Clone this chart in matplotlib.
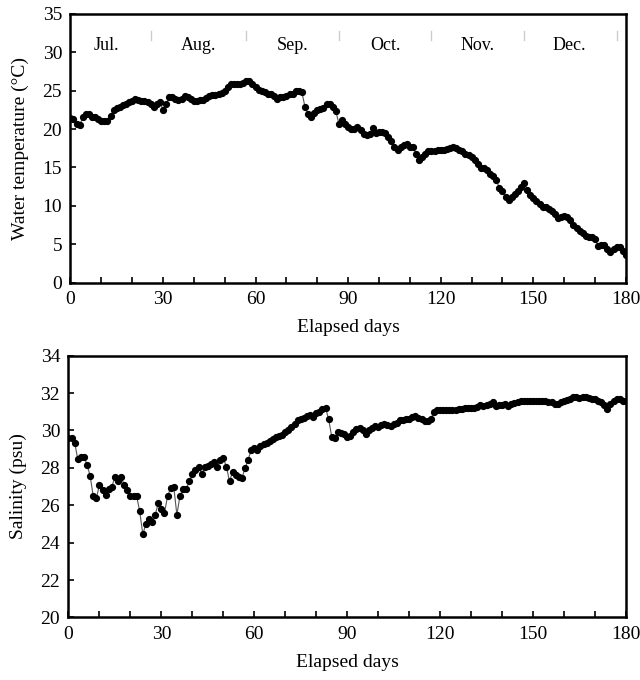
import numpy as np
import matplotlib
matplotlib.use('Agg')
import matplotlib.pyplot as plt

plt.rcParams['font.family'] = ['Liberation Serif', 'DejaVu Serif']

# Daily readings, day 0 .. 180
days = np.arange(181)

temperature = [
    21.4, 21.3, 20.7, 20.5, 21.5, 22.0, 21.9, 21.6, 21.5, 21.3,
    21.1, 21.0, 21.0, 21.7, 22.5, 22.7, 22.9, 23.1, 23.2, 23.5,
    23.7, 23.9, 23.8, 23.7, 23.6, 23.5, 23.2, 22.8, 23.3, 23.5,
    22.5, 23.2, 24.1, 24.2, 23.9, 23.8, 23.9, 24.3, 24.2, 23.9,
    23.6, 23.6, 23.8, 23.8, 24.0, 24.3, 24.4, 24.4, 24.6, 24.7,
    25.0, 25.5, 25.9, 25.9, 25.8, 25.8, 26.0, 26.2, 26.3, 25.9,
    25.4, 25.1, 24.9, 24.8, 24.6, 24.5, 24.3, 23.9, 24.2, 24.2,
    24.3, 24.5, 24.6, 24.9, 25.0, 24.8, 22.9, 21.9, 21.5, 22.1,
    22.5, 22.6, 22.7, 23.2, 23.2, 22.9, 22.3, 20.7, 21.2, 20.7,
    20.3, 20.0, 20.0, 20.3, 19.9, 19.4, 19.2, 19.3, 20.1, 19.5,
    19.6, 19.6, 19.5, 19.0, 18.4, 17.7, 17.3, 17.7, 17.9, 18.1,
    17.7, 17.7, 16.8, 16.0, 16.4, 16.8, 17.1, 17.1, 17.1, 17.3,
    17.3, 17.3, 17.4, 17.5, 17.6, 17.5, 17.3, 17.1, 16.8, 16.6,
    16.4, 16.0, 15.5, 14.9, 14.9, 14.7, 14.2, 13.9, 13.4, 12.3,
    11.9, 11.2, 10.8, 11.2, 11.5, 11.9, 12.5, 13.0, 12.1, 11.4,
    11.0, 10.6, 10.3, 9.9, 9.8, 9.6, 9.3, 9.0, 8.4, 8.6,
    8.7, 8.6, 8.2, 7.5, 7.1, 6.8, 6.5, 6.1, 6.0, 6.0,
    5.7, 4.8, 4.9, 4.9, 4.4, 4.0, 4.4, 4.7, 4.6, 4.2,
    3.6,
]

salinity = [
    29.6, 29.6, 29.35, 28.46, 28.57, 28.6, 28.16, 27.57, 26.47, 26.38,
    27.09, 26.79, 26.56, 26.86, 27.0, 27.5, 27.27, 27.5, 27.09, 26.79,
    26.5, 26.5, 26.5, 25.67, 24.45, 25.0, 25.27, 25.13, 25.49, 26.11,
    25.79, 25.58, 26.5, 26.91, 26.97, 25.49, 26.5, 26.88, 26.88, 27.27,
    27.68, 27.89, 28.02, 27.68, 28.02, 28.1, 28.21, 28.3, 28.07, 28.43,
    28.5, 28.07, 27.27, 27.8, 27.63, 27.5, 27.45, 27.98, 28.43, 28.96,
    29.05, 28.96, 29.18, 29.28, 29.35, 29.46, 29.55, 29.67, 29.71, 29.76,
    29.89, 30.03, 30.21, 30.35, 30.56, 30.6, 30.65, 30.78, 30.83, 30.71,
    30.92, 31.01, 31.14, 31.22, 30.6, 29.67, 29.58, 29.94, 29.85, 29.82,
    29.67, 29.71, 29.94, 30.07, 30.12, 30.0, 29.82, 30.0, 30.12, 30.24,
    30.2, 30.3, 30.35, 30.3, 30.25, 30.35, 30.4, 30.55, 30.55, 30.6,
    30.6, 30.7, 30.75, 30.65, 30.6, 30.5, 30.5, 30.6, 31.0, 31.1,
    31.1, 31.1, 31.1, 31.1, 31.1, 31.1, 31.15, 31.15, 31.2, 31.2,
    31.2, 31.2, 31.25, 31.35, 31.3, 31.35, 31.4, 31.5, 31.3, 31.35,
    31.35, 31.4, 31.3, 31.4, 31.45, 31.5, 31.6, 31.6, 31.55, 31.55,
    31.6, 31.6, 31.6, 31.55, 31.55, 31.5, 31.5, 31.4, 31.4, 31.5,
    31.55, 31.65, 31.7, 31.8, 31.8, 31.75, 31.8, 31.8, 31.75, 31.7,
    31.7, 31.6, 31.5, 31.35, 31.15, 31.4, 31.55, 31.7, 31.7, 31.6,
    31.6,
]

months = ['Jul.', 'Aug.', 'Sep.', 'Oct.', 'Nov.', 'Dec.']
month_centres = [11.6, 41.4, 72, 102, 131.8, 161.6]
month_breaks = [26, 57, 87, 117, 147, 177]


def style_axes(ax, ymin, ymax, ystep):
    ax.set_xlim(0, 180)
    ax.set_ylim(ymin, ymax)
    ax.set_xticks(np.arange(0, 181, 30))
    ax.set_xticks(np.arange(0, 181, 10), minor=True)
    ax.set_yticks(np.arange(ymin, ymax + 0.1, ystep))
    ax.tick_params(direction='in', length=4, width=1.2, labelsize=14, pad=6)
    ax.tick_params(which='minor', direction='in', length=4, width=1.2)
    for s in ax.spines.values():
        s.set_linewidth(1.8)
    ax.set_xlabel('Elapsed days', fontsize=14, labelpad=8)


fig = plt.figure(figsize=(6.4, 6.8), dpi=100)

# Water temperature
ax1 = fig.add_axes([0.110, 0.584, 0.868, 0.396])
ax1.plot(days, temperature, color='#555555', lw=0.8, marker='o',
         ms=4.2, mfc='black', mec='black', zorder=3)
style_axes(ax1, 0, 35, 5)
ax1.set_ylabel('Water temperature (°C)', fontsize=14, labelpad=10)
for name, c in zip(months, month_centres):
    ax1.text(c, 30.9, name, ha='center', va='center', fontsize=13)
for b in month_breaks:
    ax1.plot([b, b], [31.6, 32.8], color='#cccccc', lw=1)

# Salinity
ax2 = fig.add_axes([0.107, 0.092, 0.871, 0.385])
ax2.plot(days, salinity, color='#555555', lw=0.8, marker='o',
         ms=4.2, mfc='black', mec='black', zorder=3)
style_axes(ax2, 20, 34, 2)
ax2.set_ylabel('Salinity (psu)', fontsize=14, labelpad=10)

fig.savefig('out.png', dpi=100)
